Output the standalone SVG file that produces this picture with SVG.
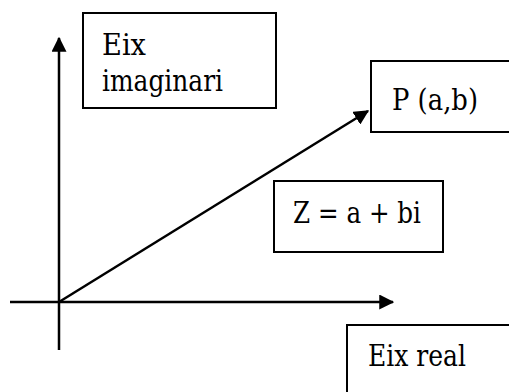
<svg xmlns="http://www.w3.org/2000/svg" width="509" height="392" viewBox="0 0 509 392">
  <style>
    .box { fill: #fff; stroke: #000; stroke-width: 2; }
    .ln { stroke: #000; stroke-width: 2.5; fill: none; }
    .t { font-family: 'DejaVu Serif', serif; font-size: 29px; fill: #000; }
  </style>
  <defs>
    <marker id="ah" markerWidth="6" markerHeight="6" refX="5.5" refY="3" orient="auto" markerUnits="strokeWidth">
      <path d="M0,0 L6,3 L0,6 Z" fill="#000"/>
    </marker>
  </defs>
  <rect width="509" height="392" fill="#fff"/>
  <g id="connectors">
    <line class="ln" x1="59" y1="350" x2="59" y2="38" marker-end="url(#ah)"/>
    <line class="ln" x1="10" y1="302" x2="393" y2="302" marker-end="url(#ah)"/>
    <line class="ln" x1="59" y1="302" x2="368" y2="111" marker-end="url(#ah)"/>
  </g>
  <g id="eix-imaginari">
    <rect class="box" x="83" y="13" width="193" height="95"/>
    <text class="t" x="102" y="55" textLength="44" lengthAdjust="spacingAndGlyphs">Eix</text>
    <text class="t" x="102" y="91" textLength="121" lengthAdjust="spacingAndGlyphs">imaginari</text>
  </g>
  <g id="p-ab">
    <rect class="box" x="371" y="61" width="150" height="71"/>
    <text class="t" x="392" y="110" textLength="86" lengthAdjust="spacingAndGlyphs">P (a,b)</text>
  </g>
  <g id="z-eq">
    <rect class="box" x="274" y="181" width="169" height="71"/>
    <text class="t" x="293" y="223" textLength="128" lengthAdjust="spacingAndGlyphs">Z = a + bi</text>
  </g>
  <g id="eix-real">
    <rect class="box" x="347" y="325" width="180" height="80"/>
    <text class="t" x="368" y="366" textLength="98" lengthAdjust="spacingAndGlyphs">Eix real</text>
  </g>
</svg>
